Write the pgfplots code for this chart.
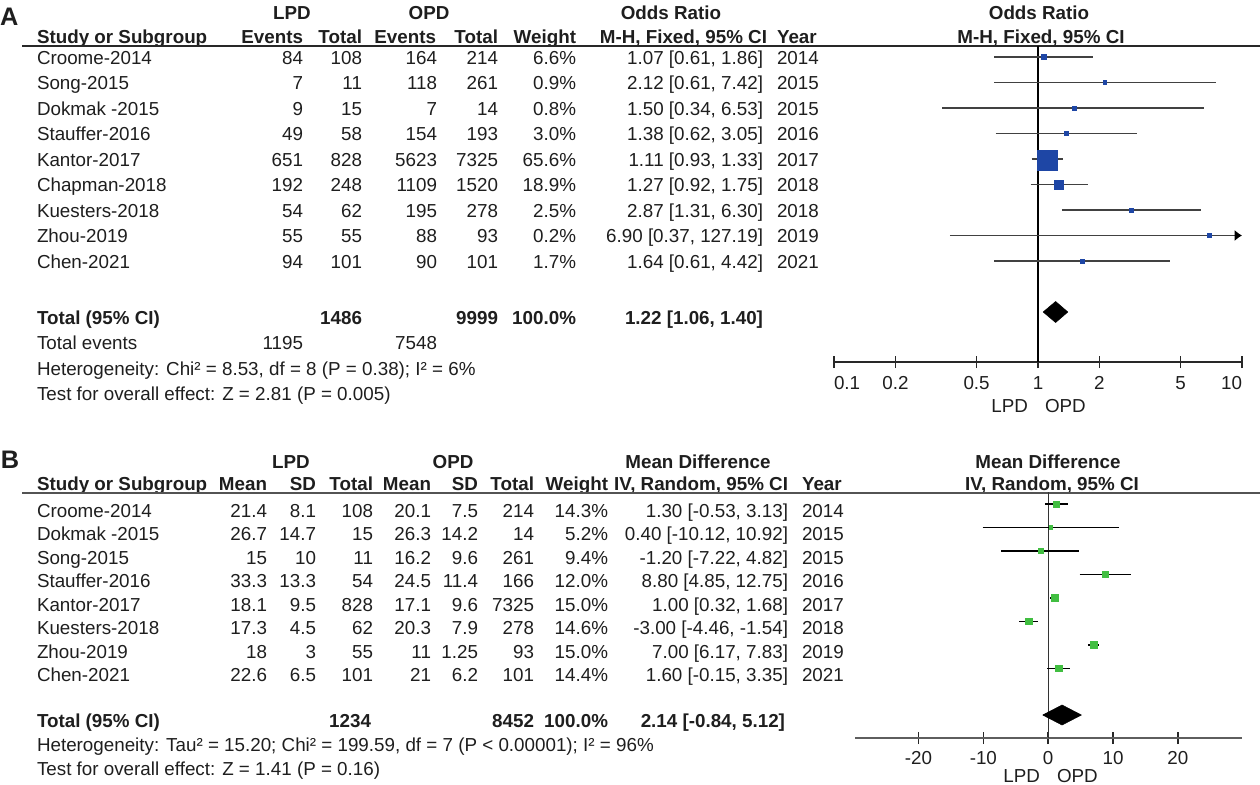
\documentclass[border=0pt]{standalone}
\usepackage{fontspec}
\setmainfont{Liberation Sans}
\usepackage{pgfplots}
\pgfplotsset{compat=1.18}
\usetikzlibrary{arrows.meta}

\definecolor{txt}{RGB}{30,30,30}
\definecolor{sqblue}{RGB}{30,70,165}
\definecolor{sqgreen}{RGB}{65,190,65}
\definecolor{cigray}{RGB}{65,65,65}
\definecolor{axgray}{RGB}{40,40,40}

\newcommand\fs{\fontsize{14.1pt}{16pt}\selectfont}
% text helpers, coordinates in pixels of the reference
\newcommand\R[3]{\node[anchor=base east] at (#1,#2) {#3};}
\newcommand\Lt[3]{\node[anchor=base west] at (#1,#2) {#3};}
\newcommand\Ct[3]{\node[anchor=base] at (#1,#2) {#3};}
\newcommand\rowA[9]{\Lt{37}{#1}{#2}\R{303}{#1}{#3}\R{362}{#1}{#4}\R{437}{#1}{#5}%
  \R{498}{#1}{#6}\R{576}{#1}{#7}\R{763}{#1}{#8}\Lt{777}{#1}{#9}}
\newcommand\rowB[9]{\Lt{37}{#1}{#2}\R{267}{#1}{#3}\R{316}{#1}{#4}\R{373}{#1}{#5}%
  \R{431}{#1}{#6}\R{478}{#1}{#7}\R{534}{#1}{#8}\R{608}{#1}{#9}}
\newcommand\ciB[3]{\R{788}{#1}{#2}\Lt{802}{#1}{#3}}

\pgfplotsset{forest/.style={
  scale only axis, anchor=south west, clip=false,
  axis y line=none, axis x line*=bottom,
  axis line style={line width=1.2pt, draw=axgray},
  tick align=center, major tick length=9pt,
  tick style={line width=1.2pt, draw=axgray},
  xminorticks=false,
  every tick label/.append style={font=\fs, text=txt},
}}

\begin{document}
\begin{tikzpicture}[every node/.style={inner sep=0pt, outer sep=0pt, font=\fs, text=txt}]
\begin{scope}[x=0.75pt, y=-0.75pt]
\path[use as bounding box] (0,0) rectangle (1260,785);

% ---------------- panel A ----------------
\node[anchor=base west, font=\fontsize{19pt}{19pt}\selectfont\bfseries] at (0,25) {A};
\begin{scope}[every node/.append style={font=\fs\bfseries}]
\Ct{292}{19}{LPD}\Ct{429}{19}{OPD}\Ct{671}{19}{Odds Ratio}\Ct{1039}{19}{Odds Ratio}
\Lt{37}{43}{Study or Subgroup}\R{303}{43}{Events}\R{362}{43}{Total}\R{436}{43}{Events}
\R{498}{43}{Total}\R{576}{43}{Weight}\R{767}{43}{M-H, Fixed, 95\% CI}\Lt{777}{43}{Year}
\Ct{1041}{43}{M-H, Fixed, 95\% CI}
\end{scope}
\draw[line width=1.5pt, draw=axgray] (22,45.5) -- (1260,45.5);

\rowA{64}{Croome-2014}{84}{108}{164}{214}{6.6\%}{1.07 [0.61, 1.86]}{2014}
\rowA{89.5}{Song-2015}{7}{11}{118}{261}{0.9\%}{2.12 [0.61, 7.42]}{2015}
\rowA{115}{Dokmak -2015}{9}{15}{7}{14}{0.8\%}{1.50 [0.34, 6.53]}{2015}
\rowA{140.5}{Stauffer-2016}{49}{58}{154}{193}{3.0\%}{1.38 [0.62, 3.05]}{2016}
\rowA{166}{Kantor-2017}{651}{828}{5623}{7325}{65.6\%}{1.11 [0.93, 1.33]}{2017}
\rowA{191.5}{Chapman-2018}{192}{248}{1109}{1520}{18.9\%}{1.27 [0.92, 1.75]}{2018}
\rowA{217}{Kuesters-2018}{54}{62}{195}{278}{2.5\%}{2.87 [1.31, 6.30]}{2018}
\rowA{242.5}{Zhou-2019}{55}{55}{88}{93}{0.2\%}{6.90 [0.37, 127.19]}{2019}
\rowA{268}{Chen-2021}{94}{101}{90}{101}{1.7\%}{1.64 [0.61, 4.42]}{2021}
\begin{scope}[every node/.append style={font=\fs\bfseries}]
\Lt{37}{324}{Total (95\% CI)}\R{362}{324}{1486}\R{498}{324}{9999}\R{576}{324}{100.0\%}
\R{763}{324}{1.22 [1.06, 1.40]}
\end{scope}
\Lt{37}{349.5}{Total events}\R{303}{349.5}{1195}\R{437}{349.5}{7548}
\Lt{37}{375}{Heterogeneity: Chi² = 8.53, df = 8 (P = 0.38); I² = 6\%}
\Lt{37}{400.5}{Test for overall effect: Z = 2.81 (P = 0.005)}
\R{1028}{412}{LPD}\Lt{1045}{412}{OPD}

% ---------------- panel B ----------------
\node[anchor=base west, font=\fontsize{19pt}{19pt}\selectfont\bfseries] at (1,468) {B};
\begin{scope}[every node/.append style={font=\fs\bfseries}]
\Ct{291}{468}{LPD}\Ct{453}{468}{OPD}\Ct{698}{468}{Mean Difference}\Ct{1048}{468}{Mean Difference}
\Lt{37}{490}{Study or Subgroup}\R{267}{490}{Mean}\R{316}{490}{SD}\R{373}{490}{Total}
\R{431}{490}{Mean}\R{478}{490}{SD}\R{534}{490}{Total}\R{608}{490}{Weight}
\R{788}{490}{IV, Random, 95\% CI}\Lt{802}{490}{Year}\Ct{1052}{490}{IV, Random, 95\% CI}
\end{scope}
\draw[line width=1.5pt, draw=axgray!80] (22,492.5) -- (1260,492.5);

\rowB{517}{Croome-2014}{21.4}{8.1}{108}{20.1}{7.5}{214}{14.3\%}\ciB{517}{1.30 [-0.53, 3.13]}{2014}
\rowB{540.5}{Dokmak -2015}{26.7}{14.7}{15}{26.3}{14.2}{14}{5.2\%}\ciB{540.5}{0.40 [-10.12, 10.92]}{2015}
\rowB{564}{Song-2015}{15}{10}{11}{16.2}{9.6}{261}{9.4\%}\ciB{564}{-1.20 [-7.22, 4.82]}{2015}
\rowB{587.5}{Stauffer-2016}{33.3}{13.3}{54}{24.5}{11.4}{166}{12.0\%}\ciB{587.5}{8.80 [4.85, 12.75]}{2016}
\rowB{611}{Kantor-2017}{18.1}{9.5}{828}{17.1}{9.6}{7325}{15.0\%}\ciB{611}{1.00 [0.32, 1.68]}{2017}
\rowB{634.5}{Kuesters-2018}{17.3}{4.5}{62}{20.3}{7.9}{278}{14.6\%}\ciB{634.5}{-3.00 [-4.46, -1.54]}{2018}
\rowB{658}{Zhou-2019}{18}{3}{55}{11}{1.25}{93}{15.0\%}\ciB{658}{7.00 [6.17, 7.83]}{2019}
\rowB{681.5}{Chen-2021}{22.6}{6.5}{101}{21}{6.2}{101}{14.4\%}\ciB{681.5}{1.60 [-0.15, 3.35]}{2021}
\begin{scope}[every node/.append style={font=\fs\bfseries}]
\Lt{37}{727}{Total (95\% CI)}\R{371}{727}{1234}\R{534}{727}{8452}\R{608}{727}{100.0\%}
\R{785}{727}{2.14 [-0.84, 5.12]}
\end{scope}
\Lt{37}{751.5}{Heterogeneity: Tau² = 15.20; Chi² = 199.59, df = 7 (P < 0.00001); I² = 96\%}
\Lt{37}{775.5}{Test for overall effect: Z = 1.41 (P = 0.16)}
\R{1040}{782}{LPD}\Lt{1057}{782}{OPD}
\end{scope}

% ---------------- forest A (odds ratio, log scale) ----------------
\begin{axis}[forest,
  at={(625.5pt,-271.5pt)}, width=306pt, height=237pt,
  xmode=log, xmin=0.1, xmax=10, ymin=-362, ymax=-46,
  xtick={0.1,0.2,0.5,1,2,5,10},
  xticklabels={\hbox to 0pt{0.1\hss},0.2,0.5,1,2,5,\hbox to 0pt{\hss 10}},
  xticklabel style={anchor=base, yshift=-15.75pt},
  ciA/.style={draw=cigray, line width=1.3pt},
  sqA/.style={only marks, mark=square*, mark options={draw=sqblue, fill=sqblue}},
]
\addplot[black, line width=1pt] coordinates {(1,-46) (1,-362)};
\addplot[ciA] coordinates {(0.61,-57) (1.86,-57)};
\addplot[ciA] coordinates {(0.61,-82.5) (7.42,-82.5)};
\addplot[ciA] coordinates {(0.34,-108) (6.53,-108)};
\addplot[ciA] coordinates {(0.62,-133.5) (3.05,-133.5)};
\addplot[ciA] coordinates {(0.93,-159) (1.33,-159)};
\addplot[ciA] coordinates {(0.92,-184.5) (1.75,-184.5)};
\addplot[ciA] coordinates {(1.31,-210) (6.30,-210)};
\addplot[ciA, -{Latex[length=5.5pt, width=8.5pt, color=black]}] coordinates {(0.37,-235.5) (10,-235.5)};
\addplot[ciA] coordinates {(0.61,-261) (4.42,-261)};
\addplot[sqA, mark size=2.06pt] coordinates {(1.07,-57)};
\addplot[sqA, mark size=1.31pt] coordinates {(2.12,-82.5)};
\addplot[sqA, mark size=1.39pt] coordinates {(1.50,-108)};
\addplot[sqA, mark size=1.6pt] coordinates {(1.38,-133.5)};
\addplot[sqA, mark size=7.5pt] coordinates {(1.11,-160)};
\addplot[sqA, mark size=3.4pt] coordinates {(1.27,-184.5)};
\addplot[sqA, mark size=1.5pt] coordinates {(2.87,-210)};
\addplot[sqA, mark size=1.39pt] coordinates {(6.90,-235.5)};
\addplot[sqA, mark size=1.5pt] coordinates {(1.64,-261)};
\addplot[fill=black, draw=black] coordinates {(1.06,-312) (1.22,-301.5) (1.40,-312) (1.22,-322.5) (1.06,-312)};
\end{axis}

% ---------------- forest B (mean difference) ----------------
\begin{axis}[forest,
  at={(641.25pt,-553.5pt)}, width=290.25pt, height=184.5pt,
  xmin=-29.8, xmax=29.9, ymin=-738, ymax=-492,
  xtick={-20,-10,0,10,20},
  xticklabels={-20,-10,0,10,20},
  xticklabel style={anchor=base, yshift=-15pt},
  axis line style={draw=axgray!75},
  ciB/.style={draw=black, line width=1.1pt},
  sqB/.style={only marks, mark=square*, mark options={draw=sqgreen, fill=sqgreen}},
]
\addplot[black!80, line width=1pt] coordinates {(0,-492) (0,-738)};
\addplot[ciB] coordinates {(-0.53,-504) (3.13,-504)};
\addplot[ciB] coordinates {(-10.12,-527.5) (10.92,-527.5)};
\addplot[ciB] coordinates {(-7.22,-551) (4.82,-551)};
\addplot[ciB] coordinates {(4.85,-574.5) (12.75,-574.5)};
\addplot[ciB] coordinates {(0.32,-598) (1.68,-598)};
\addplot[ciB] coordinates {(-4.46,-621.5) (-1.54,-621.5)};
\addplot[ciB] coordinates {(6.17,-645) (7.83,-645)};
\addplot[ciB] coordinates {(-0.15,-668.5) (3.35,-668.5)};
\addplot[sqB, mark size=2.36pt] coordinates {(1.30,-504)};
\addplot[sqB, mark size=1.39pt] coordinates {(0.40,-527.5)};
\addplot[sqB, mark size=1.88pt] coordinates {(-1.20,-551)};
\addplot[sqB, mark size=2.25pt] coordinates {(8.80,-574.5)};
\addplot[sqB, mark size=2.63pt] coordinates {(1.00,-598)};
\addplot[sqB, mark size=2.36pt] coordinates {(-3.00,-621.5)};
\addplot[sqB, mark size=2.63pt] coordinates {(7.00,-645)};
\addplot[sqB, mark size=2.44pt] coordinates {(1.60,-668.5)};
\addplot[fill=black, draw=black] coordinates {(-0.84,-715) (2.14,-705) (5.12,-715) (2.14,-725) (-0.84,-715)};
\end{axis}
\end{tikzpicture}
\end{document}
